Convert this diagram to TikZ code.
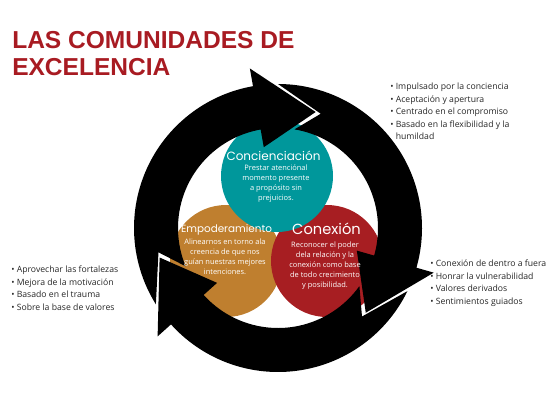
\documentclass[tikz,border=0pt]{standalone}
\usepackage{fontspec}
\setmainfont{Open Sans}
\newfontfamily\titlefont{Liberation Sans}
\newfontfamily\headfont{Poppins}
\definecolor{titlered}{RGB}{168,27,34}
\definecolor{tealc}{RGB}{0,151,155}
\definecolor{ochre}{RGB}{191,127,47}
\definecolor{wine}{RGB}{167,30,34}
\definecolor{ink}{RGB}{0,0,0}

\begin{document}
\begin{tikzpicture}[x=0.75pt, y=-0.75pt,
    circ/.style={circle, minimum size=84pt, inner sep=0pt},
    head/.style={text=white, inner sep=0pt, anchor=base, font=\headfont\fontsize{#1}{#1}\selectfont},
    body/.style={text=white, align=center, inner sep=0pt, font=\fontsize{5.6}{7.5}\selectfont},
    bullets/.style={align=left, anchor=north west, inner sep=0pt, text=black!85, font=\fontsize{6.5}{9.4}\selectfont}]

    \useasboundingbox (0,0) rectangle (552,414);

    % title
    \node[anchor=north west, inner sep=0pt, align=left, text=titlered,
          font=\titlefont\bfseries\fontsize{18.4}{20.4}\selectfont] (title) at (12,31)
          {LAS COMUNIDADES DE\\EXCELENCIA};

    % the three circles
    \node[circ, fill=ochre] (emp) at (226,261) {};
    \node[circ, fill=wine] (con) at (327,261) {};
    \node[circ, fill=tealc] (cc) at (277,176) {};

    % cycle of arrows: notched tail, body, head
    \begin{scope}[shift={(278,228)}, x=0.75pt, y=0.75pt]
        \foreach \to/\ti/\tn/\b/\p in {212/202.5/191.5/100/72, 90/80.5/69.5/-16/-44, -26/-35.5/-46.5/-138/-166}
            \fill[ink] (\to:144) arc[start angle=\to, end angle=\b, radius=144]
                -- (\b:162) -- (\p:122) -- (\b:82)
                -- (\b:100) arc[start angle=\b, end angle=\ti, radius=100]
                -- (\tn:122) -- cycle;
    \end{scope}

    % texts in the circles
    \node[head=9] (cctitle) at (273.5,160) {Concienciación};
    \node[body] (cctext) at (276,184) {Prestar atenciónal\\momento presente\\a propósito sin\\prejuicios.};
    \node[head=7.8] (emptitle) at (226.5,232) {Empoderamiento};
    \node[body] (emptext) at (225,257) {Alinearnos en torno ala\\creencia de que nos\\guían nuestras mejores\\intenciones.};
    \node[head=11] (contitle) at (326.5,234) {Conexión};
    \node[body] (context) at (325,266) {Reconocer el poder\\dela relación y la\\conexión como base\\de todo crecimiento\\y posibilidad.};

    % lists
    \node[bullets] (listcc) at (390,83) {\textbullet\ Impulsado por la conciencia\\
        \textbullet\ Aceptación y apertura\\
        \textbullet\ Centrado en el compromiso\\
        \textbullet\ Basado en la flexibilidad y la\\
        \phantom{\textbullet\ }humildad};
    \node[bullets] (listemp) at (11,266) {\textbullet\ Aprovechar las fortalezas\\
        \textbullet\ Mejora de la motivación\\
        \textbullet\ Basado en el trauma\\
        \textbullet\ Sobre la base de valores};
    \node[bullets] (listcon) at (430,260) {\textbullet\ Conexión de dentro a fuera\\
        \textbullet\ Honrar la vulnerabilidad\\
        \textbullet\ Valores derivados\\
        \textbullet\ Sentimientos guiados};
\end{tikzpicture}
\end{document}
